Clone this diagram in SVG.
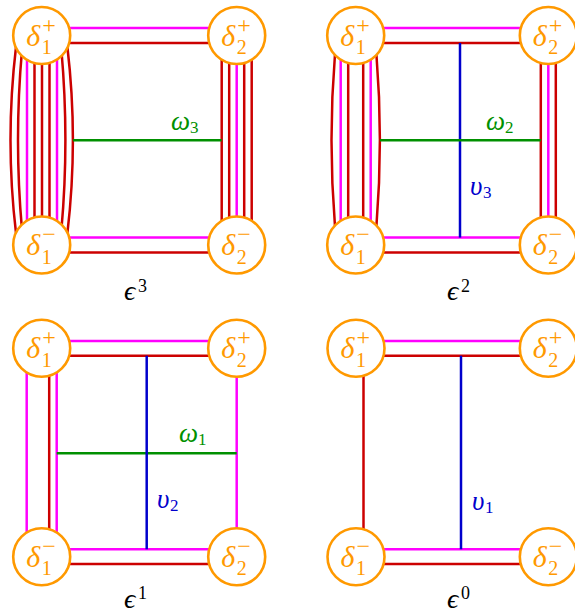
<svg xmlns="http://www.w3.org/2000/svg" width="575" height="613" viewBox="0 0 575 613">
<style>
.m{stroke:#FF00FF;stroke-width:2.5;fill:none}
.r{stroke:#CC0000;stroke-width:2.5;fill:none}
.g{stroke:#009000;stroke-width:2.5;fill:none}
.b{stroke:#0000CC;stroke-width:2.5;fill:none}
.node circle{fill:#fff;stroke:#FF9900;stroke-width:2.6}
.node text{fill:#FF9900;font-family:"Liberation Serif","DejaVu Serif",serif;font-size:30px;font-style:italic}
.sp{font-size:24px;font-style:normal}
.sb{font-size:20px;font-style:normal}
.lab{font-family:"Liberation Serif","DejaVu Serif",serif}
.gi{font-size:27px;font-style:italic}
.li{font-size:17px}
.ei{font-size:28px;font-style:italic}
.es{font-size:18px}
.gl{fill:#009000}
.bl{fill:#0000CC}
.kl{fill:#000}
</style>
<rect width="575" height="613" fill="#fff"/>
<g id="connectors">
<line class="m" x1="41.7" y1="28.1" x2="236.7" y2="28.1"/>
<line class="r" x1="41.7" y1="42.9" x2="236.7" y2="42.9"/>
<line class="m" x1="41.7" y1="237.6" x2="236.7" y2="237.6"/>
<line class="r" x1="41.7" y1="252.4" x2="236.7" y2="252.4"/>
<line class="m" x1="27" y1="35.5" x2="27" y2="245"/>
<line class="r" x1="34.5" y1="35.5" x2="34.5" y2="245"/>
<line class="r" x1="42" y1="35.5" x2="42" y2="245"/>
<line class="r" x1="49.5" y1="35.5" x2="49.5" y2="245"/>
<line class="m" x1="57" y1="35.5" x2="57" y2="245"/>
<path class="r" d="M16,47 Q5,140 16,233"/>
<path class="r" d="M22,50 Q14,140 22,230"/>
<path class="r" d="M61.4,50 Q69.4,140 61.4,230"/>
<path class="r" d="M67.4,47 Q78.4,140 67.4,233"/>
<line class="r" x1="221.7" y1="35.5" x2="221.7" y2="245"/>
<line class="r" x1="229.2" y1="35.5" x2="229.2" y2="245"/>
<line class="m" x1="236.7" y1="35.5" x2="236.7" y2="245"/>
<line class="r" x1="244.2" y1="35.5" x2="244.2" y2="245"/>
<line class="r" x1="251.7" y1="35.5" x2="251.7" y2="245"/>
<line class="g" x1="72.9" y1="140.3" x2="221.7" y2="140.3"/>
<line class="m" x1="355.7" y1="28.1" x2="548.3" y2="28.1"/>
<line class="r" x1="355.7" y1="42.9" x2="548.3" y2="42.9"/>
<line class="m" x1="355.7" y1="237.6" x2="548.3" y2="237.6"/>
<line class="r" x1="355.7" y1="252.4" x2="548.3" y2="252.4"/>
<line class="m" x1="340.7" y1="35.5" x2="340.7" y2="245"/>
<line class="r" x1="348.2" y1="35.5" x2="348.2" y2="245"/>
<line class="r" x1="363.2" y1="35.5" x2="363.2" y2="245"/>
<line class="m" x1="370.7" y1="35.5" x2="370.7" y2="245"/>
<path class="r" d="M335,54 Q328,140 335,226.5"/>
<path class="r" d="M376.4,54 Q383.4,140 376.4,226.5"/>
<line class="r" x1="540.8" y1="35.5" x2="540.8" y2="245"/>
<line class="m" x1="548.3" y1="35.5" x2="548.3" y2="245"/>
<line class="r" x1="555.8" y1="35.5" x2="555.8" y2="245"/>
<line class="b" x1="460" y1="42.9" x2="460" y2="237.6"/>
<line class="g" x1="379.9" y1="140.3" x2="540.8" y2="140.3"/>
<line class="m" x1="41.7" y1="341" x2="236.7" y2="341"/>
<line class="r" x1="41.7" y1="355.7" x2="236.7" y2="355.7"/>
<line class="m" x1="41.7" y1="549.3" x2="236.7" y2="549.3"/>
<line class="r" x1="41.7" y1="564.1" x2="236.7" y2="564.1"/>
<line class="m" x1="26.7" y1="348.3" x2="26.7" y2="556.7"/>
<line class="r" x1="49.2" y1="348.3" x2="49.2" y2="556.7"/>
<line class="m" x1="56.7" y1="348.3" x2="56.7" y2="556.7"/>
<line class="m" x1="236.7" y1="348.3" x2="236.7" y2="556.7"/>
<line class="g" x1="56.7" y1="453.3" x2="236.7" y2="453.3"/>
<line class="b" x1="146.7" y1="355.7" x2="146.7" y2="549.3"/>
<line class="m" x1="356" y1="341" x2="548.3" y2="341"/>
<line class="r" x1="356" y1="355.7" x2="548.3" y2="355.7"/>
<line class="m" x1="356" y1="549.3" x2="548.3" y2="549.3"/>
<line class="r" x1="356" y1="564.1" x2="548.3" y2="564.1"/>
<line class="r" x1="363.5" y1="348.3" x2="363.5" y2="556.7"/>
<line class="b" x1="461" y1="355.7" x2="461" y2="549.3"/>
</g>
<g id="p1-d1p" class="node"><circle cx="41.7" cy="35.5" r="28.5"/><text x="26.2" y="45.5">δ<tspan class="sp" x="42.2" y="32.5">+</tspan><tspan class="sb" x="41.7" y="54">1</tspan></text></g>
<g id="p1-d1m" class="node"><circle cx="41.7" cy="245" r="28.5"/><text x="26.2" y="255">δ<tspan class="sp" x="42.2" y="242">−</tspan><tspan class="sb" x="41.7" y="263.5">1</tspan></text></g>
<g id="p1-d2p" class="node"><circle cx="236.7" cy="35.5" r="28.5"/><text x="221.2" y="45.5">δ<tspan class="sp" x="237.2" y="32.5">+</tspan><tspan class="sb" x="236.7" y="54">2</tspan></text></g>
<g id="p1-d2m" class="node"><circle cx="236.7" cy="245" r="28.5"/><text x="221.2" y="255">δ<tspan class="sp" x="237.2" y="242">−</tspan><tspan class="sb" x="236.7" y="263.5">2</tspan></text></g>
<g id="p2-d1p" class="node"><circle cx="355.7" cy="35.5" r="28.5"/><text x="340.2" y="45.5">δ<tspan class="sp" x="356.2" y="32.5">+</tspan><tspan class="sb" x="355.7" y="54">1</tspan></text></g>
<g id="p2-d1m" class="node"><circle cx="355.7" cy="245" r="28.5"/><text x="340.2" y="255">δ<tspan class="sp" x="356.2" y="242">−</tspan><tspan class="sb" x="355.7" y="263.5">1</tspan></text></g>
<g id="p2-d2p" class="node"><circle cx="548.3" cy="35.5" r="28.5"/><text x="532.8" y="45.5">δ<tspan class="sp" x="548.8" y="32.5">+</tspan><tspan class="sb" x="548.3" y="54">2</tspan></text></g>
<g id="p2-d2m" class="node"><circle cx="548.3" cy="245" r="28.5"/><text x="532.8" y="255">δ<tspan class="sp" x="548.8" y="242">−</tspan><tspan class="sb" x="548.3" y="263.5">2</tspan></text></g>
<g id="p3-d1p" class="node"><circle cx="41.7" cy="348.3" r="28.5"/><text x="26.2" y="358.3">δ<tspan class="sp" x="42.2" y="345.3">+</tspan><tspan class="sb" x="41.7" y="366.8">1</tspan></text></g>
<g id="p3-d1m" class="node"><circle cx="41.7" cy="556.7" r="28.5"/><text x="26.2" y="566.7">δ<tspan class="sp" x="42.2" y="553.7">−</tspan><tspan class="sb" x="41.7" y="575.2">1</tspan></text></g>
<g id="p3-d2p" class="node"><circle cx="236.7" cy="348.3" r="28.5"/><text x="221.2" y="358.3">δ<tspan class="sp" x="237.2" y="345.3">+</tspan><tspan class="sb" x="236.7" y="366.8">2</tspan></text></g>
<g id="p3-d2m" class="node"><circle cx="236.7" cy="556.7" r="28.5"/><text x="221.2" y="566.7">δ<tspan class="sp" x="237.2" y="553.7">−</tspan><tspan class="sb" x="236.7" y="575.2">2</tspan></text></g>
<g id="p4-d1p" class="node"><circle cx="356" cy="348.3" r="28.5"/><text x="340.5" y="358.3">δ<tspan class="sp" x="356.5" y="345.3">+</tspan><tspan class="sb" x="356" y="366.8">1</tspan></text></g>
<g id="p4-d1m" class="node"><circle cx="356" cy="556.7" r="28.5"/><text x="340.5" y="566.7">δ<tspan class="sp" x="356.5" y="553.7">−</tspan><tspan class="sb" x="356" y="575.2">1</tspan></text></g>
<g id="p4-d2p" class="node"><circle cx="548.3" cy="348.3" r="28.5"/><text x="532.8" y="358.3">δ<tspan class="sp" x="548.8" y="345.3">+</tspan><tspan class="sb" x="548.3" y="366.8">2</tspan></text></g>
<g id="p4-d2m" class="node"><circle cx="548.3" cy="556.7" r="28.5"/><text x="532.8" y="566.7">δ<tspan class="sp" x="548.8" y="553.7">−</tspan><tspan class="sb" x="548.3" y="575.2">2</tspan></text></g>
<g id="labels" class="lab">
<text class="gi gl" x="171" y="130">ω</text><text class="li gl" x="190" y="133">3</text>
<text class="gi gl" x="486" y="130">ω</text><text class="li gl" x="505" y="133">2</text>
<text class="gi gl" x="179" y="441.7">ω</text><text class="li gl" x="198" y="444.5">1</text>
<text class="gi bl" x="470" y="195">υ</text><text class="li bl" x="483" y="198">3</text>
<text class="gi bl" x="157" y="508">υ</text><text class="li bl" x="170" y="511">2</text>
<text class="gi bl" x="472" y="510">υ</text><text class="li bl" x="485" y="513">1</text>
<text class="ei kl" x="124" y="300">ϵ</text><text class="es kl" x="138" y="292">3</text>
<text class="ei kl" x="447" y="300">ϵ</text><text class="es kl" x="461" y="292">2</text>
<text class="ei kl" x="124" y="608">ϵ</text><text class="es kl" x="138" y="599">1</text>
<text class="ei kl" x="447" y="608">ϵ</text><text class="es kl" x="461" y="599">0</text>
</g>
</svg>
